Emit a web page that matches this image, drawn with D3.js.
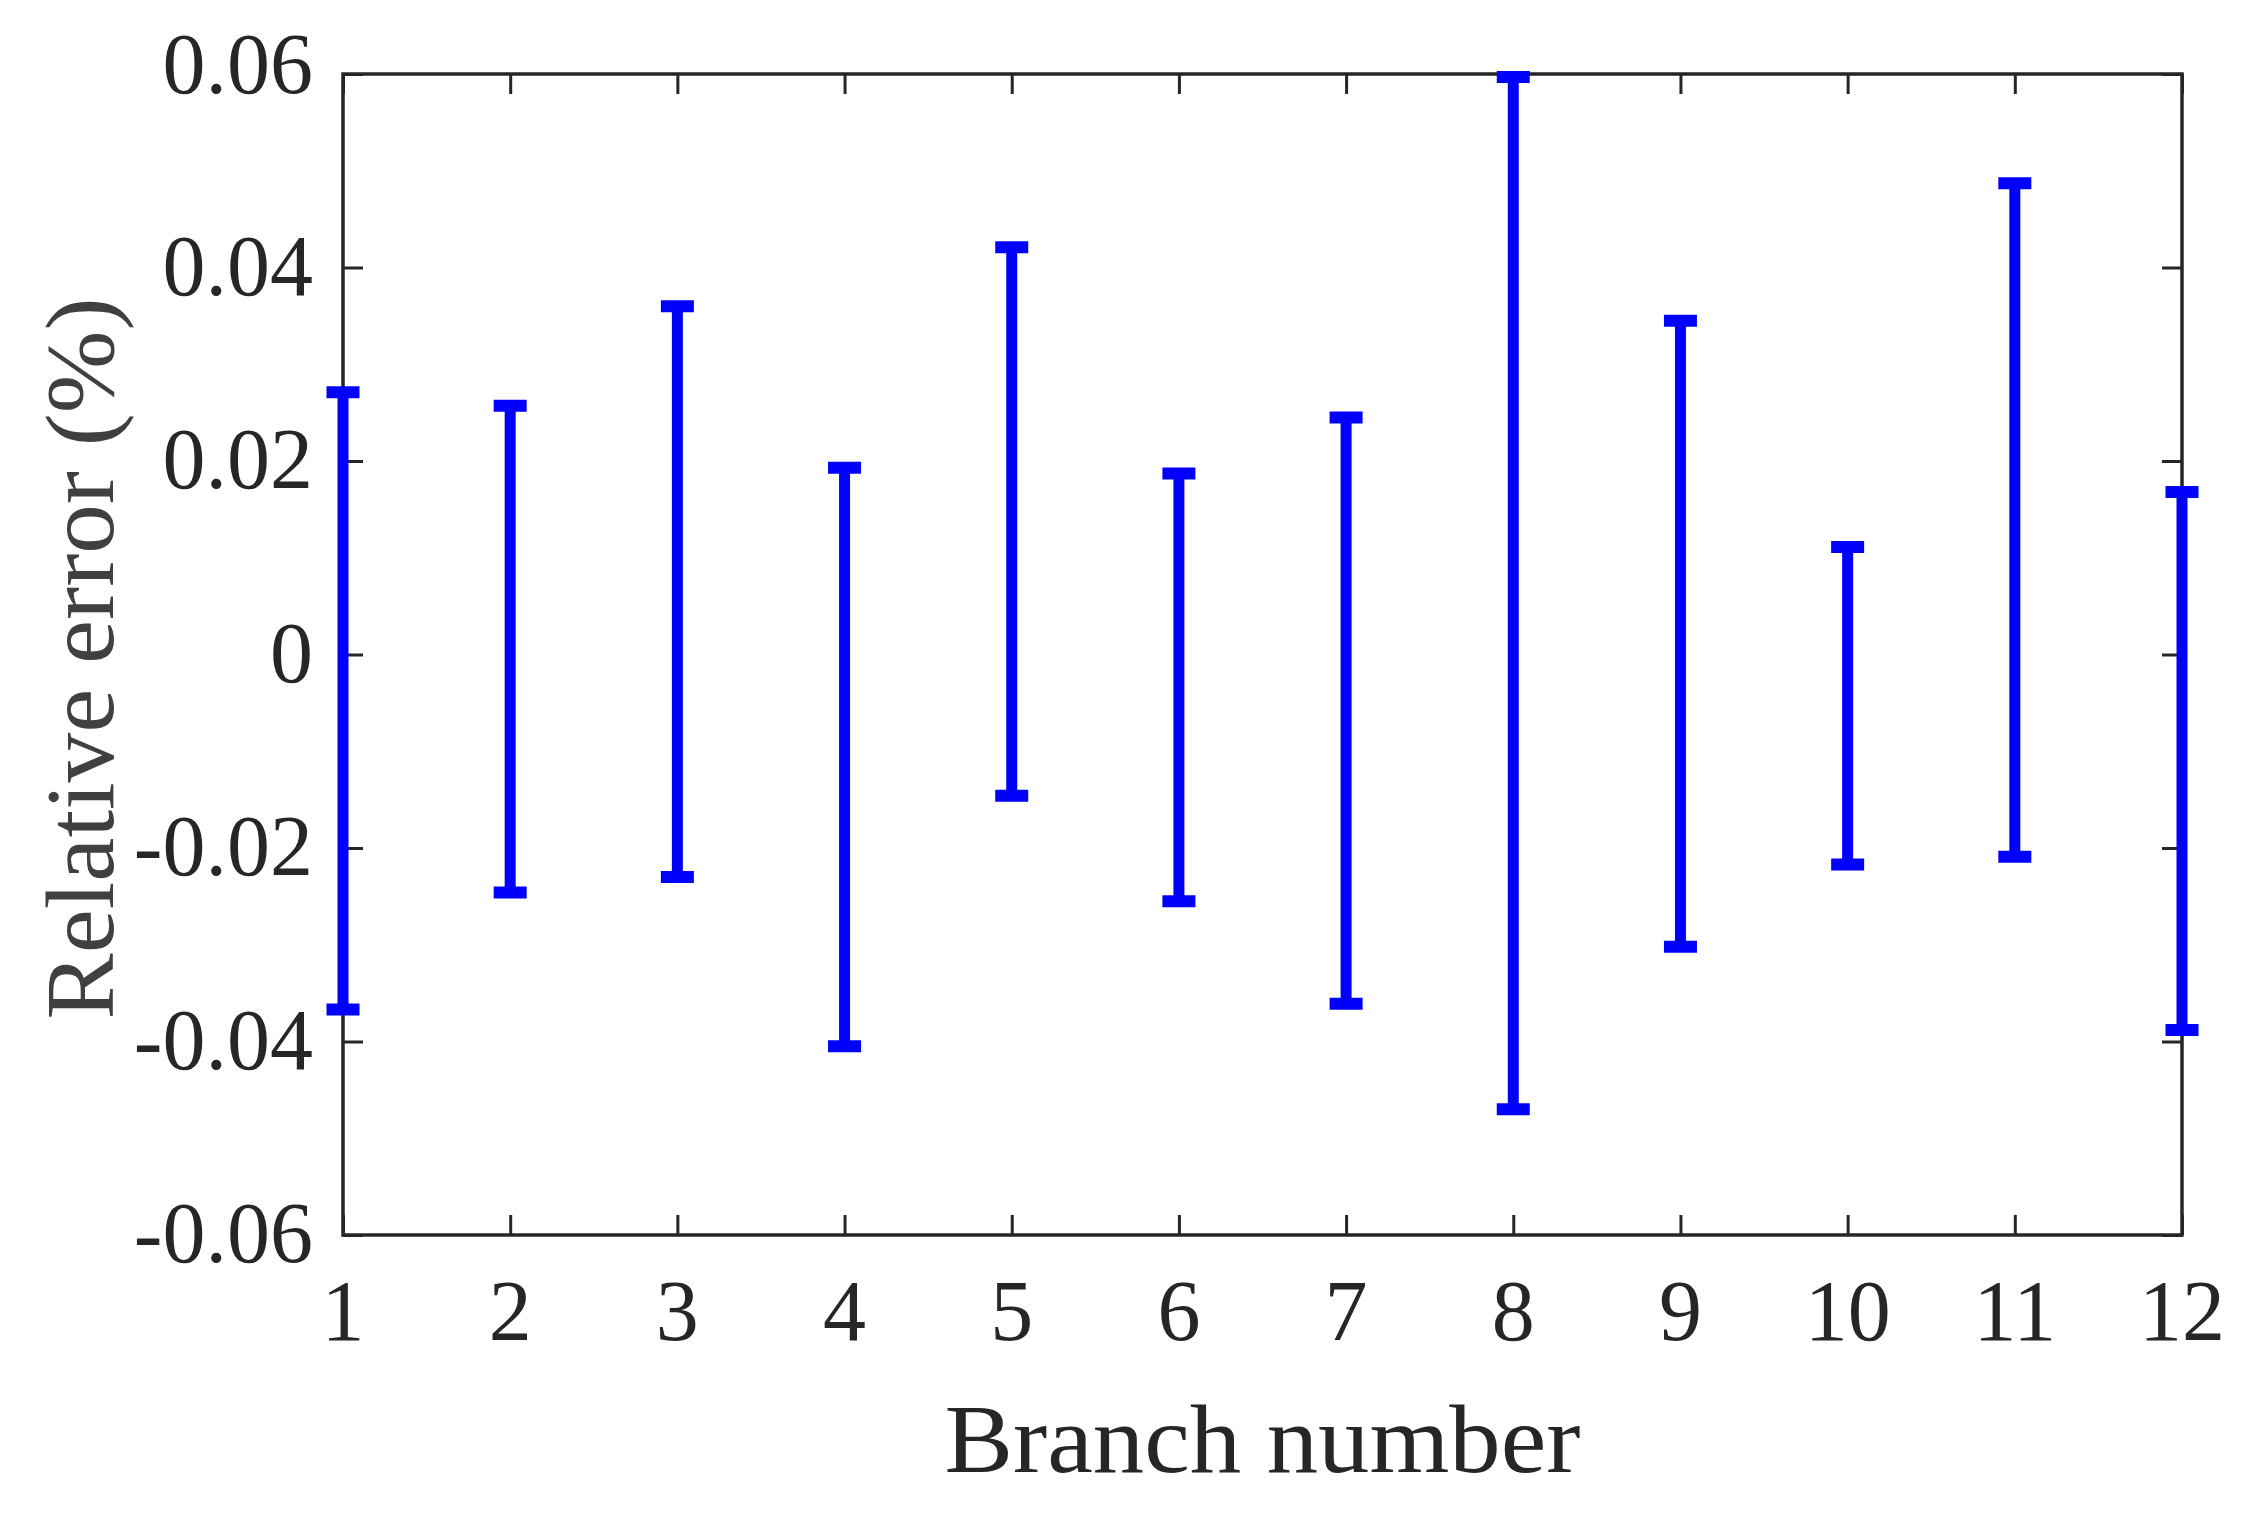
<!DOCTYPE html>
<html>
<head>
<meta charset="utf-8">
<script src="https://cdn.jsdelivr.net/npm/d3@7"></script>
<style>
  html, body { margin: 0; padding: 0; background: #fff; }
  svg text { font-family: "Palatino Linotype", "Book Antiqua", Palatino, "Liberation Serif", serif; }
</style>
</head>
<body>
<div id="chart"></div>
<script>
// data
const branches = [1, 2, 3, 4, 5, 6, 7, 8, 9, 10, 11, 12];
const upper = [0.0271, 0.0257, 0.0360, 0.0193, 0.0421, 0.0187, 0.0245, 0.0597, 0.0345, 0.0111, 0.0487, 0.0168];
const lower = [-0.0367, -0.0246, -0.0230, -0.0405, -0.0146, -0.0255, -0.0361, -0.0470, -0.0302, -0.0217, -0.0209, -0.0388];
const yTicks = [-0.06, -0.04, -0.02, 0, 0.02, 0.04, 0.06];
const yTickLabels = ["-0.06", "-0.04", "-0.02", "0", "0.02", "0.04", "0.06"];
const xLabel = "Branch number";
const yLabel = "Relative error (%)";

const width = 2257;
const height = 1516;
const plotLeft = 343, plotRight = 2182, plotTop = 74, plotBottom = 1235;
const axisColor = "#262626";

const x = d3.scaleLinear().domain([1, 12]).range([plotLeft, plotRight]);
const y = d3.scaleLinear().domain([-0.06, 0.06]).range([plotBottom, plotTop]);

const svg = d3.select("#chart")
    .append("svg")
    .attr("width", width)
    .attr("height", height);

// ticks on all four sides, pointing inward
function styleAxis(g) {
    g.select(".domain").remove();
    g.selectAll(".tick line").attr("stroke", axisColor).attr("stroke-width", 3);
    g.selectAll(".tick text").remove();
}

svg.append("g")
    .attr("transform", `translate(0,${plotBottom})`)
    .call(d3.axisBottom(x).tickValues(branches).tickSize(-20))
    .call(styleAxis);
svg.append("g")
    .attr("transform", `translate(0,${plotTop})`)
    .call(d3.axisTop(x).tickValues(branches).tickSize(-20))
    .call(styleAxis);
svg.append("g")
    .attr("transform", `translate(${plotLeft},0)`)
    .call(d3.axisLeft(y).tickValues(yTicks).tickSize(-20))
    .call(styleAxis);
svg.append("g")
    .attr("transform", `translate(${plotRight},0)`)
    .call(d3.axisRight(y).tickValues(yTicks).tickSize(-20))
    .call(styleAxis);

// box
svg.append("rect")
    .attr("x", plotLeft)
    .attr("y", plotTop)
    .attr("width", plotRight - plotLeft)
    .attr("height", plotBottom - plotTop)
    .attr("fill", "none")
    .attr("stroke", axisColor)
    .attr("stroke-width", 3.5);

// tick labels
svg.selectAll(".xlab")
    .data(branches)
    .enter()
    .append("text")
    .attr("class", "xlab")
    .attr("x", d => x(d))
    .attr("y", 1340)
    .attr("text-anchor", "middle")
    .attr("font-size", 86)
    .attr("fill", axisColor)
    .text(d => d);

// top label sits a little higher in the original
svg.selectAll(".ylab")
    .data(yTicks)
    .enter()
    .append("text")
    .attr("class", "ylab")
    .attr("x", 313)
    .attr("y", d => y(d) + (d === 0.06 ? 19 : 27))
    .attr("text-anchor", "end")
    .attr("font-size", 86)
    .attr("fill", axisColor)
    .text((d, i) => yTickLabels[i]);

// axis titles
svg.append("text")
    .attr("x", (plotLeft + plotRight) / 2)
    .attr("y", 1472)
    .attr("text-anchor", "middle")
    .attr("font-size", 97)
    .attr("textLength", 636)
    .attr("lengthAdjust", "spacingAndGlyphs")
    .attr("fill", axisColor)
    .text(xLabel);

svg.append("text")
    .attr("transform", `translate(113,${(plotTop + plotBottom) / 2 + 4}) rotate(-90)`)
    .attr("text-anchor", "middle")
    .attr("font-size", 97)
    .attr("textLength", 722)
    .attr("lengthAdjust", "spacingAndGlyphs")
    .attr("fill", "#404040")
    .text(yLabel);

// error bars
const bars = svg.append("g").selectAll("g")
    .data(branches.map((b, i) => ({ b: b, hi: upper[i], lo: lower[i] })))
    .enter()
    .append("g")
    .attr("stroke", "#0000ff");

bars.append("line")
    .attr("x1", d => x(d.b))
    .attr("x2", d => x(d.b))
    .attr("y1", d => y(d.hi))
    .attr("y2", d => y(d.lo))
    .attr("stroke-width", 11);

bars.append("line")
    .attr("x1", d => x(d.b) - 16.5)
    .attr("x2", d => x(d.b) + 16.5)
    .attr("y1", d => y(d.hi))
    .attr("y2", d => y(d.hi))
    .attr("stroke-width", 12);

bars.append("line")
    .attr("x1", d => x(d.b) - 16.5)
    .attr("x2", d => x(d.b) + 16.5)
    .attr("y1", d => y(d.lo))
    .attr("y2", d => y(d.lo))
    .attr("stroke-width", 12);
</script>
</body>
</html>
